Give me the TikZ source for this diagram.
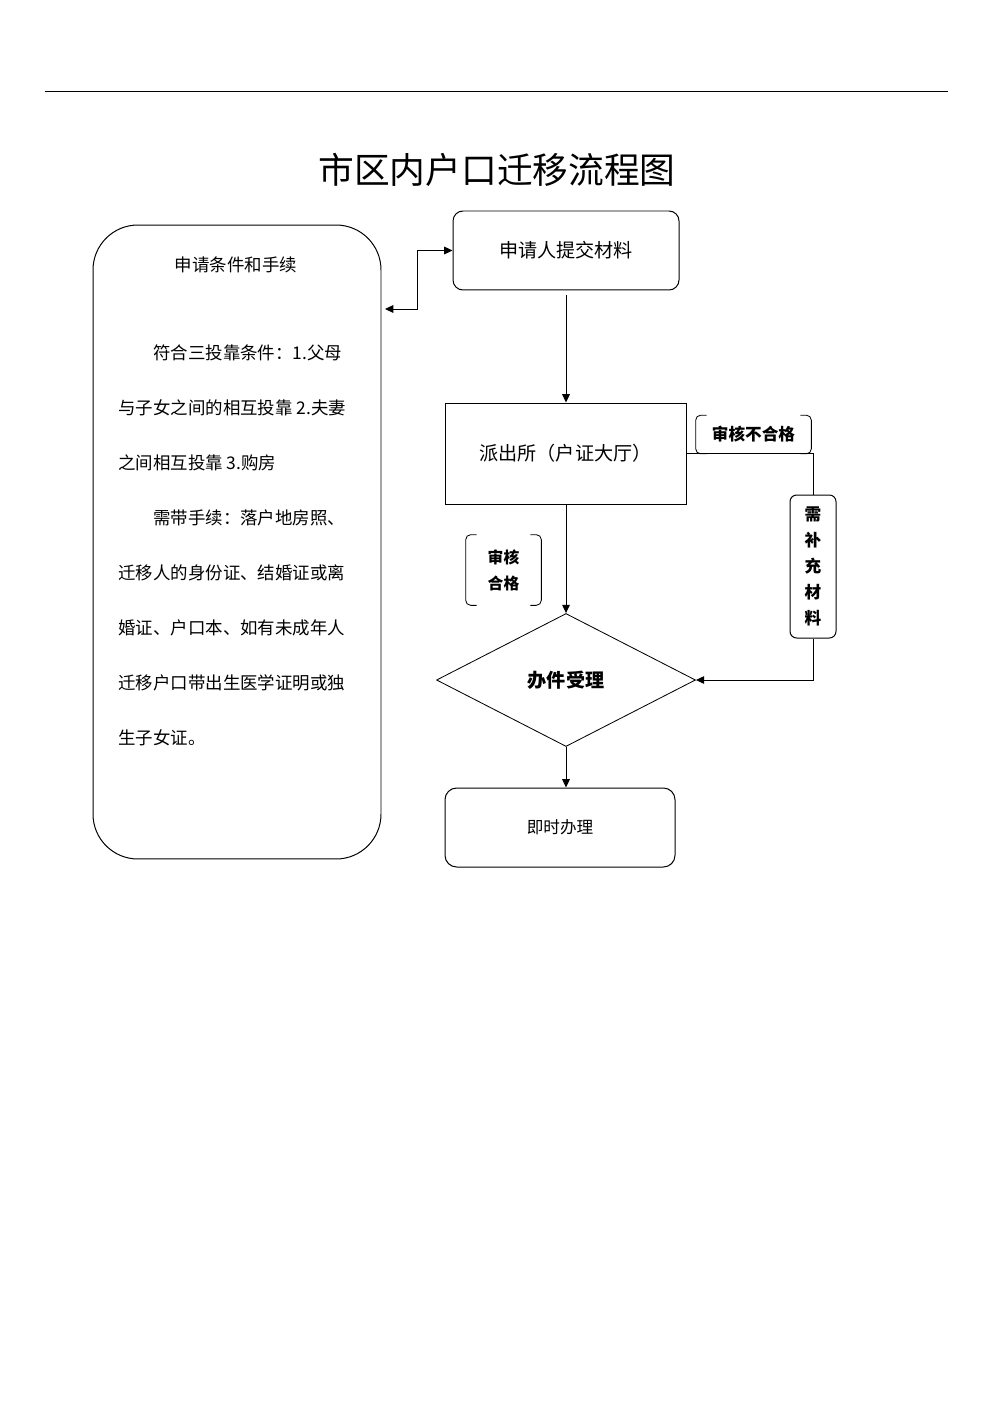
\documentclass[tikz,border=0pt]{standalone}
\usepackage{fontspec}
\setmainfont{Noto Sans CJK SC}
\usetikzlibrary{arrows.meta,
    shapes.geometric,
    positioning}
\def\px{0.6017pt}
\tikzset{
  box/.style={rectangle, draw, line width=0.6pt, inner sep=0pt, font=\fontsize{11.5}{14}\selectfont},
  roundbox/.style={box, rounded corners=6pt},
  decision/.style={diamond, draw, line width=0.5pt, inner sep=0pt, aspect=1.95, font=\bfseries\fontsize{11.5}{14}\selectfont},
  note/.style={inner sep=0pt, align=center, font=\bfseries\fontsize{10}{15.6}\selectfont},
  body/.style={inner sep=0pt, anchor=west, font=\fontsize{10.5}{12}\selectfont},
  arr/.style={line width=0.6pt, -{Triangle[length=5pt,width=4.6pt]}},
  }
\begin{document}
\begin{tikzpicture}[x=0.021148cm, y=-0.021148cm]
  \fill[white] (0,0) rectangle (993,1404);
  \useasboundingbox (0,0) rectangle (993,1404);
  % page rule and heading
  \draw[line width=0.6pt] (45,92) -- (948,92);
  \node[font=\fontsize{21.5}{24}\selectfont] (title) at (497,170) {市区内户口迁移流程图};

  % left column: conditions
  \node [roundbox, rounded corners=27pt, minimum width=288*\px, minimum height=634*\px] (cond) at (237,542) {};
  \node [body, anchor=center] (condhead) at (236,265) {申请条件和手续};
  \foreach \txt [count=\i from 0] in {\hspace*{2em}符合三投靠条件：1.父母,
      与子女之间的相互投靠 2.夫妻,
      之间相互投靠 3.购房,
      \hspace*{2em}需带手续：落户地房照、,
      迁移人的身份证、结婚证或离,
      婚证、户口本、如有未成年人,
      迁移户口带出生医学证明或独,
      生子女证。}
    \node [body] (line\i) at (118,353+55*\i) {\txt};

  % right column: flow
  \node [roundbox, minimum width=226*\px, minimum height=79*\px] (submit) at (566,250.5) {申请人提交材料};
  \node [box, minimum width=241*\px, minimum height=101*\px] (office) at (565.5,453.5) {派出所（户证大厅）};
  \node [decision, minimum width=259*\px, minimum height=133*\px] (accept) at (566,680) {办件受理};
  \node [roundbox, rounded corners=7pt, font=\fontsize{10}{12}\selectfont, minimum width=230*\px, minimum height=79*\px] (done) at (560,827.5) {即时办理};
  \node [roundbox, rounded corners=4pt, note, minimum width=46*\px, minimum height=143*\px] (supply) at (813,566.5) {需\\补\\充\\材\\料};

  % bracket labels
  \node [note, minimum width=115*\px, minimum height=38*\px] (fail) at (753.5,434.5) {审核不合格};
  \node [note, font=\bfseries\fontsize{9.5}{15.6}\selectfont, minimum width=75*\px, minimum height=70*\px] (pass) at (503.5,570) {审核\\合格};
  \foreach \b in {fail,pass} {
    \draw[line width=0.5pt, rounded corners=5*\px] ([xshift=11*\px]\b.north west) -- (\b.north west) -- (\b.south west) -- ([xshift=11*\px]\b.south west);
    \draw[line width=0.5pt, rounded corners=5*\px] ([xshift=-11*\px]\b.north east) -- (\b.north east) -- (\b.south east) -- ([xshift=-11*\px]\b.south east);
  }

  % connectors
  \coordinate (back) at (385,309);
  \draw[arr, {Triangle[length=5pt,width=4.6pt]}-{Triangle[length=5pt,width=4.6pt]}] (back) -| ([xshift=-35*\px]submit.west) -- (submit.west);
  \draw[arr] ([yshift=-5*\px]submit.south) -- (submit.south |- office.north);
  \draw[line width=0.6pt] (office.east) -| (supply.north);
  \draw[arr] (supply.south) |- (accept.east);
  \draw[arr] (office.south -| accept.north) -- (accept.north);
  \draw[arr] (accept.south) -- (accept.south |- done.north);
\end{tikzpicture}
\end{document}
